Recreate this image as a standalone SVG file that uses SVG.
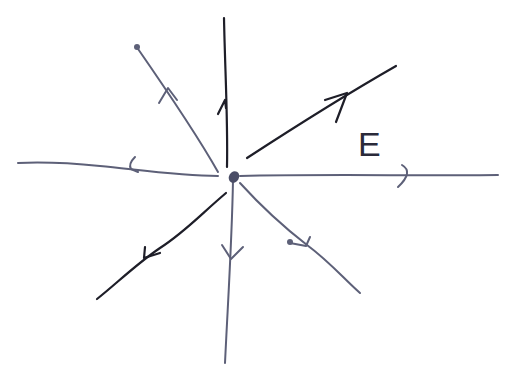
<svg xmlns="http://www.w3.org/2000/svg" width="509" height="378" viewBox="0 0 509 378">
<style>
.ln{fill:none;stroke-linecap:round;stroke-linejoin:round}
.g{stroke:#5d6078;stroke-width:2}
.k{stroke:#1e1e28;stroke-width:2.2}
.lbl{font-family:"Liberation Sans",sans-serif;font-size:34px;fill:#2a2a3a}
</style>
<rect width="509" height="378" fill="#ffffff"/>
<g id="connectors">
<g id="line-up"><path class="ln k" d="M227,167 C228,120 225,70 224,18"/><path class="ln k" d="M218,114 L225,100 L226,108" stroke-width="3"/></g>
<g id="line-upleft"><path class="ln g" d="M218,172 C200,140 170,95 136,46"/><path class="ln g" d="M159,103 L168,88 L177,100" stroke-width="3"/><circle cx="137" cy="47" r="3" fill="#5d6078"/></g>
<g id="line-upright"><path class="ln k" d="M247,158 C290,130 340,98 396,66"/><path class="ln k" d="M325,100 L347,93 L336,122"/></g>
<g id="line-right"><path class="ln g" d="M240,176 C320,174 420,176 498,175"/><path class="ln g" d="M402,165 Q414,172 398,187"/></g>
<g id="line-left"><path class="ln g" d="M218,176 C180,176 140,170 100,166 C70,163 40,162 18,163"/><path class="ln g" d="M135,157 Q128,164 131,169 L138,172"/></g>
<g id="line-downleft"><path class="ln k" d="M226,193 C200,215 185,232 160,248 C135,265 115,285 97,299"/><path class="ln k" d="M145,247 L144,258 L160,253"/></g>
<g id="line-down"><path class="ln g" d="M233,180 C232,240 228,300 225,363"/><path class="ln g" d="M222,245 L231,259 L243,247"/></g>
<g id="line-downright"><path class="ln g" d="M240,183 C260,205 285,228 307,245 C330,262 345,280 360,293"/><path class="ln g" d="M290,243 L306,246 L310,237"/><circle cx="290" cy="242" r="3" fill="#5d6078"/></g>
</g>
<g id="charge"><ellipse cx="234" cy="177" rx="5" ry="6" transform="rotate(30 234 177)" fill="#4a4d66"/></g>
<g id="label-E"><text class="lbl" x="358" y="156">E</text></g>
</svg>
